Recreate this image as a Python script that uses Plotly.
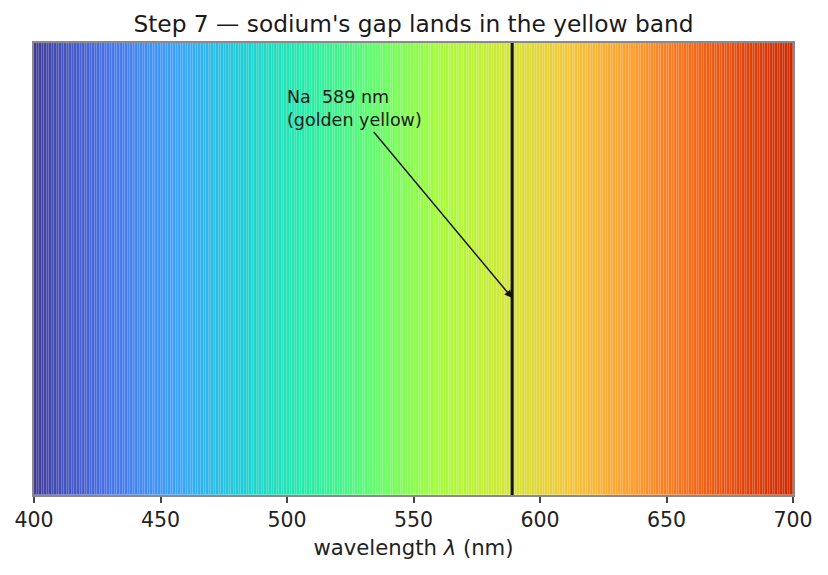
import numpy as np
import plotly.graph_objects as go

# ---- data ----
band_start_nm = np.arange(400, 700)          # 1-nm spectral bands, 400..699
band_width_nm = 1
sodium_line_nm = 589
line_label = "Na  589 nm<br>(golden yellow)"
label_pos_nm = 526.7
x_ticks = [400, 450, 500, 550, 600, 650, 700]
title_text = "Step 7 \u2014 sodium's gap lands in the yellow band"
x_title = "wavelength <i>\u03bb</i> (nm)"

FONT = "DejaVu Sans"

fig = go.Figure()

# spectrum bands, coloured by wavelength through the Turbo colourscale
fig.add_trace(go.Bar(
    x=band_start_nm + band_width_nm / 2,
    y=np.ones(len(band_start_nm)),
    base=0,
    width=band_width_nm,
    marker=dict(color=band_start_nm + band_width_nm / 2, colorscale="Turbo",
                cmin=380, cmax=740,
                line=dict(width=0.4, color="rgba(255,255,255,0.22)")),
    hoverinfo="skip",
    showlegend=False,
))

# sodium line
fig.add_trace(go.Scatter(
    x=[sodium_line_nm, sodium_line_nm], y=[0, 1],
    mode="lines", line=dict(color="#111111", width=3),
    hoverinfo="skip", showlegend=False,
))

fig.add_annotation(
    x=sodium_line_nm, y=0.436, xref="x", yref="y",
    ax=label_pos_nm, ay=0.854, axref="x", ayref="y",
    text=line_label, align="left", showarrow=True,
    arrowhead=2, arrowsize=1.1, arrowwidth=1.4, arrowcolor="#111111",
    font=dict(family=FONT, size=17.5, color="#1a1a1a"),
)

fig.update_layout(
    width=828, height=575,
    margin=dict(l=34, r=35, t=43, b=80),
    paper_bgcolor="white", plot_bgcolor="white",
    bargap=0,
    title=dict(text=title_text, x=0.5, xref="paper", xanchor="center",
               y=1 - 24 / 575, yref="container", yanchor="middle",
               font=dict(family=FONT, size=23.3, color="#1a1a1a")),
    xaxis=dict(range=[400, 700], tickvals=x_ticks, ticktext=[str(t) for t in x_ticks],
               ticks="outside", ticklen=6, tickwidth=1.5, tickcolor="#444444",
               showline=True, mirror=True, linecolor="#8a8a8a", linewidth=1.5,
               showgrid=False, zeroline=False,
               tickfont=dict(family=FONT, size=20.5, color="#222222"),
               title=dict(text=x_title, standoff=9,
                          font=dict(family=FONT, size=21.2, color="#222222"))),
    yaxis=dict(range=[0, 1], showticklabels=False, ticks="",
               showline=True, mirror=True, linecolor="#8a8a8a", linewidth=1.5,
               showgrid=False, zeroline=False),
)

fig.write_html("out.html")
